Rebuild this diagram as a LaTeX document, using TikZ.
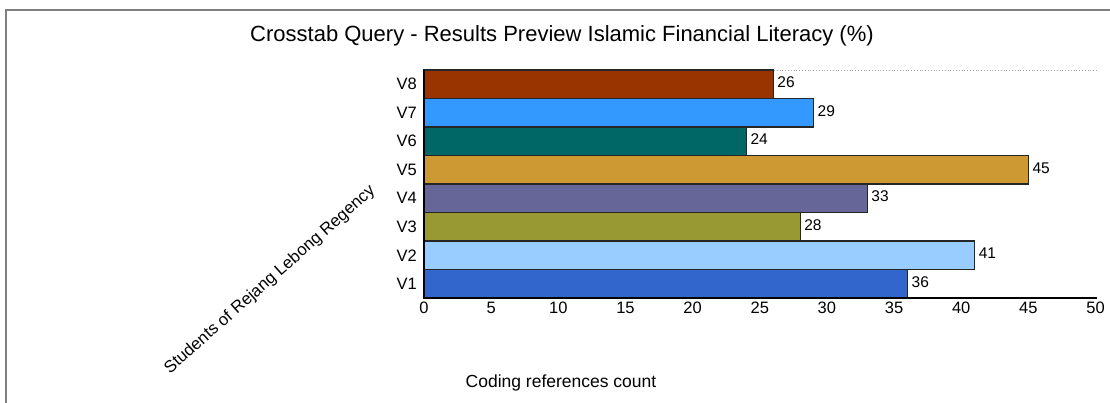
\documentclass[tikz,border=0pt]{standalone}
\usepackage{fontspec}
\setmainfont{Liberation Sans}
\definecolor{cV1}{HTML}{3366CC}
\definecolor{cV2}{HTML}{99CCFF}
\definecolor{cV3}{HTML}{999933}
\definecolor{cV4}{HTML}{666699}
\definecolor{cV5}{HTML}{CC9933}
\definecolor{cV6}{HTML}{006666}
\definecolor{cV7}{HTML}{3399FF}
\definecolor{cV8}{HTML}{993300}
\definecolor{framegray}{HTML}{7F7F7F}
\begin{document}
\begin{tikzpicture}[x=1pt,y=-1pt,
  bar/.style={draw=black!85,line width=1.1pt},
  catlabel/.style={anchor=east,inner sep=0pt,font=\fontsize{16.5}{18}\selectfont},
  vallabel/.style={anchor=west,inner sep=0pt,font=\fontsize{15.5}{17}\selectfont},
  ticklabel/.style={anchor=north,inner sep=0pt,font=\fontsize{16.5}{18}\selectfont},
  axistitle/.style={inner sep=0pt,font=\fontsize{17.5}{19}\selectfont}]
\useasboundingbox (0,0) rectangle (1110,403);
% outer frame (runs past the right and bottom edges)
\draw[framegray,line width=2pt] (6,420) -- (6,10) -- (1130,10);
% title
\node[inner sep=0pt,font=\fontsize{22}{24}\selectfont] (title) at (562,36) {Crosstab Query - Results Preview Islamic Financial Literacy (\%)};
% dotted top gridline
\draw[black!35,dotted,line width=0.8pt] (424,70) -- (1097,70);
% bars: value -> length at 13.43 px per unit, 28.5 px per row
\def\ux{13.43}
\def\rh{28.5}
\foreach \name/\val/\row in {V8/26/0,V7/29/1,V6/24/2,V5/45/3,V4/33/4,V3/28/5,V2/41/6,V1/36/7}{
  \pgfmathsetmacro{\yt}{70+\row*\rh}
  \pgfmathsetmacro{\yb}{70+(\row+1)*\rh}
  \pgfmathsetmacro{\xe}{424+\val*\ux}
  \pgfmathsetmacro{\ym}{70+(\row+0.5)*\rh}
  \draw[bar,fill=c\name] (424,\yt) rectangle (\xe,\yb);
  \node[catlabel] (cat\name) at (417,\ym) {\name};
  \node[vallabel] (val\name) at (\xe+4,\ym-2) {\val};
}
% axes
\draw[black,line width=1.2pt] (424,70) -- (424,298) -- (1097,298);
\foreach \t in {0,5,...,50}{
  \node[ticklabel] (tick\t) at (424+\t*\ux,302) {\t};
}
% axis titles
\node[axistitle] (xtitle) at (561,383) {Coding references count};
\node[axistitle,font=\fontsize{16.8}{18}\selectfont,rotate=41.5] (ytitle) at (270,280) {Students of Rejang Lebong Regency};
\end{tikzpicture}
\end{document}
